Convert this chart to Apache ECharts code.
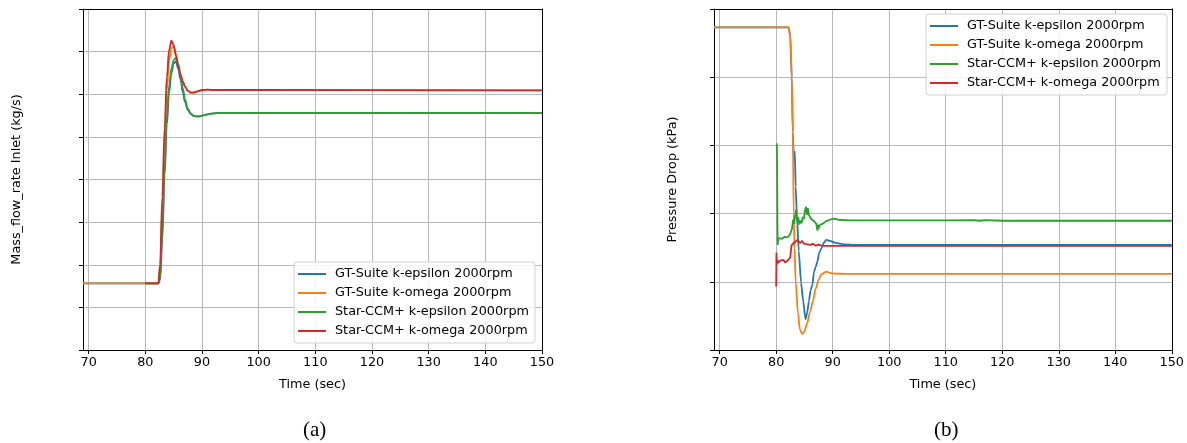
<!DOCTYPE html>
<html>
<head>
<meta charset="utf-8">
<script src="https://cdn.jsdelivr.net/npm/echarts@6/dist/echarts.min.js"></script>
<style>
  html, body { margin: 0; padding: 0; background: #fff; }
  #main { width: 1187px; height: 443px; }
</style>
</head>
<body>
<div id="main"></div>
<script>
var seriesNames = [
  "GT-Suite k-epsilon 2000rpm",
  "GT-Suite k-omega 2000rpm",
  "Star-CCM+ k-epsilon 2000rpm",
  "Star-CCM+ k-omega 2000rpm",
];
var colors = ["#1f77b4", "#ff7f0e", "#2ca02c", "#d62728"];
var timeTicks = [70, 80, 90, 100, 110, 120, 130, 140, 150];

// (a) mass flow rate inlet
var mfTimeGT = [69, 82.3, 82.6, 83.0, 83.4, 83.8, 84.2, 84.6, 85.0, 85.4, 85.8, 86.2, 86.6, 87.0, 87.5, 88.0, 88.5, 89.0, 89.5, 90, 91, 92, 93, 95, 100, 150];
var mfTimeStar = [80, 82.3, 82.6, 83.0, 83.4, 83.8, 84.2, 84.6, 85.0, 85.4, 85.8, 86.2, 86.6, 87.0, 87.5, 88.0, 88.5, 89.0, 89.5, 90, 91, 92, 93, 95, 100, 150];
var mfGTkeps = [1.565, 1.565, 1.65, 2.6, 4.1, 5.3, 6.05, 6.5, 6.72, 6.77, 6.6, 6.35, 6.05, 5.82, 5.63, 5.54, 5.49, 5.48, 5.48, 5.5, 5.53, 5.55, 5.56, 5.56, 5.56, 5.56];
var mfGTkom = [1.565, 1.565, 1.9, 3.3, 4.9, 6.1, 6.8, 7.08, 7.12, 6.95, 6.7, 6.47, 6.3, 6.18, 6.08, 6.04, 6.04, 6.06, 6.08, 6.1, 6.11, 6.1, 6.1, 6.1, 6.1, 6.09];
var mfStarKeps = [1.565, 1.565, 1.7, 2.8, 4.3, 5.5, 6.2, 6.6, 6.8, 6.85, 6.72, 6.45, 6.15, 5.88, 5.66, 5.55, 5.5, 5.48, 5.48, 5.5, 5.53, 5.55, 5.56, 5.56, 5.56, 5.56];
var mfStarKom = [1.565, 1.565, 2.0, 3.6, 5.2, 6.4, 7.05, 7.26, 7.15, 6.9, 6.65, 6.45, 6.3, 6.18, 6.08, 6.04, 6.04, 6.06, 6.08, 6.1, 6.11, 6.1, 6.1, 6.1, 6.1, 6.09];

// (b) pressure drop
var pdTimeGTkeps = [69, 82.2, 82.5, 82.75, 82.95, 83.1, 83.3, 83.45, 83.65, 84.0, 84.4, 84.8, 85.2, 85.5, 85.8, 86.1, 86.4, 86.7, 87.0, 87.3, 87.6, 88.0, 88.4, 88.85, 89.5, 90.5, 92, 94, 150];
var pdGTkeps = [4.73, 4.73, 4.6, 4.0, 3.2, 2.8, 2.91, 2.4, 2.0, 1.45, 0.99, 0.7, 0.45, 0.55, 0.72, 0.88, 0.95, 1.15, 1.22, 1.3, 1.42, 1.49, 1.57, 1.615, 1.6, 1.57, 1.55, 1.54, 1.54];
var pdTimeGTkom = [69, 82.2, 82.5, 82.75, 82.95, 83.1, 83.25, 83.45, 83.85, 84.2, 84.6, 85.0, 85.5, 86.0, 86.5, 87.0, 87.5, 88.0, 88.85, 89.5, 90.5, 92, 100, 150];
var pdGTkom = [4.73, 4.73, 4.6, 4.0, 3.2, 2.0, 1.5, 0.99, 0.54, 0.3, 0.235, 0.27, 0.4, 0.56, 0.72, 0.9, 1.03, 1.11, 1.15, 1.13, 1.12, 1.116, 1.116, 1.116];
var pdTimeStarKeps = [80.1, 80.15, 80.25, 80.4, 80.6, 81.0, 81.5, 82.0, 82.5, 82.8, 83.0, 83.2, 83.4, 83.55, 83.7, 83.9, 84.1, 84.3, 84.5, 84.7, 84.9, 85.1, 85.3, 85.45, 85.6, 85.8, 86.0, 86.2, 86.5, 86.8, 87.1, 87.3, 87.4, 87.5, 87.7, 88.0, 88.4, 88.85, 89.5, 90.3, 91, 93, 100, 110, 115, 116, 117, 120, 150];
var pdStarKeps = [3.03, 2.9, 1.54, 1.64, 1.65, 1.63, 1.66, 1.65, 1.7, 1.78, 1.91, 1.85, 2.0, 2.06, 1.9, 1.95, 1.84, 1.9, 1.86, 1.95, 1.92, 2.05, 2.1, 1.98, 2.08, 1.98, 1.96, 1.92, 1.93, 1.88, 1.85, 1.75, 1.84, 1.78, 1.83, 1.84, 1.86, 1.89, 1.91, 1.925, 1.91, 1.9, 1.9, 1.9, 1.905, 1.895, 1.905, 1.895, 1.895];
var pdTimeStarKom = [80.0, 80.05, 80.1, 80.2, 80.4, 80.7, 81.0, 81.3, 81.6, 82.0, 82.3, 82.5, 82.7, 82.9, 83.1, 83.4, 83.7, 84.0, 84.3, 84.6, 84.9, 85.2, 85.5, 85.8, 86.1, 86.5, 87.0, 87.5, 88.0, 88.5, 90, 100, 150];
var pdStarKom = [0.93, 1.43, 1.25, 1.32, 1.28, 1.31, 1.29, 1.32, 1.28, 1.31, 1.33, 1.36, 1.53, 1.55, 1.57, 1.58, 1.61, 1.59, 1.57, 1.6, 1.56, 1.58, 1.55, 1.57, 1.54, 1.56, 1.53, 1.545, 1.53, 1.527, 1.527, 1.527, 1.527];

function pairs(t, v) {
  return t.map(function (x, i) { return [x, v[i]]; });
}

var myChart = echarts.init(document.getElementById("main"), null, { renderer: "canvas" });

var fontFam = "DejaVu Sans";
var fs = 12.8;

function xAxisFor(idx) {
  return {
    gridIndex: idx,
    type: "value",
    min: 69,
    max: 150,
    name: "Time (sec)",
    nameLocation: "middle",
    nameGap: 28,
    nameTextStyle: { color: "#000", fontSize: fs, fontFamily: fontFam },
    axisLine: { show: true, lineStyle: { color: "#000", width: 1 } },
    axisTick: { show: true, length: 4, lineStyle: { color: "#000" }, customValues: timeTicks },
    axisLabel: { color: "#000", fontSize: fs, fontFamily: fontFam, margin: 6, customValues: timeTicks },
    splitLine: { show: true, lineStyle: { color: "#b8b8b8", width: 1 } },
  };
}

function yAxisFor(idx, name, max, gap) {
  return {
    gridIndex: idx,
    type: "value",
    min: 0,
    max: max,
    interval: 1,
    name: name,
    nameLocation: "middle",
    nameGap: gap,
    nameTextStyle: { color: "#000", fontSize: fs, fontFamily: fontFam },
    axisLine: { show: true, lineStyle: { color: "#000", width: 1 } },
    axisTick: { show: true, length: 4, lineStyle: { color: "#000" } },
    axisLabel: { show: false },
    splitLine: { show: true, lineStyle: { color: "#b8b8b8", width: 1 } },
  };
}

// plain frame lines on the top and right side
function frameAxis(idx, pos, max) {
  return {
    gridIndex: idx,
    type: "value",
    position: pos,
    min: pos === "top" ? 69 : 0,
    max: max,
    axisLine: { show: true, onZero: false, lineStyle: { color: "#000", width: 1 } },
    axisTick: { show: false },
    axisLabel: { show: false },
    splitLine: { show: false },
    z: 5,
  };
}

function line(name, color, idx, data, smooth) {
  return {
    name: name,
    type: "line",
    xAxisIndex: idx,
    yAxisIndex: idx,
    data: data,
    showSymbol: false,
    smooth: smooth,
    smoothMonotone: "x",
    lineStyle: { color: color, width: 1.8 },
    itemStyle: { color: color },
    emphasis: { disabled: true },
  };
}

function legendAt(pos) {
  return Object.assign({
    orient: "vertical",
    data: seriesNames,
    icon: "rect",
    itemWidth: 28,
    itemHeight: 2,
    itemGap: 5,
    padding: [5, 6, 5, 4],
    backgroundColor: "rgba(255,255,255,0.85)",
    borderColor: "#d0d0d0",
    borderWidth: 1,
    borderRadius: 3,
    textStyle: { color: "#000", fontSize: fs, fontFamily: fontFam, padding: [0, 0, 0, 4], lineHeight: 14 },
  }, pos);
}

option = {
  backgroundColor: "#fff",
  animation: false,
  grid: [
    { left: 83, top: 9, width: 459, height: 341 },
    { left: 714, top: 9, width: 459, height: 341 },
  ],
  xAxis: [xAxisFor(0), xAxisFor(1), frameAxis(0, "top", 150), frameAxis(1, "top", 150)],
  yAxis: [
    yAxisFor(0, "Mass_flow_rate Inlet (kg/s)", 8, 60),
    yAxisFor(1, "Pressure Drop (kPa)", 5, 35),
    frameAxis(0, "right", 8),
    frameAxis(1, "right", 5),
  ],
  legend: [
    legendAt({ left: 294, top: 262 }),
    legendAt({ left: 926, top: 14 }),
  ],
  series: [
    line(seriesNames[0], colors[0], 0, pairs(mfTimeGT, mfGTkeps), 0.4),
    line(seriesNames[1], colors[1], 0, pairs(mfTimeGT, mfGTkom), 0.4),
    line(seriesNames[2], colors[2], 0, pairs(mfTimeStar, mfStarKeps), 0.4),
    line(seriesNames[3], colors[3], 0, pairs(mfTimeStar, mfStarKom), 0.4),
    line(seriesNames[0], colors[0], 1, pairs(pdTimeGTkeps, pdGTkeps), 0.2),
    line(seriesNames[1], colors[1], 1, pairs(pdTimeGTkom, pdGTkom), 0.3),
    line(seriesNames[2], colors[2], 1, pairs(pdTimeStarKeps, pdStarKeps), false),
    line(seriesNames[3], colors[3], 1, pairs(pdTimeStarKom, pdStarKom), false),
  ],
  graphic: [
    { type: "text", left: 303, top: 420, style: { text: "(a)", fontSize: 21, fontFamily: "Liberation Serif", fill: "#000" } },
    { type: "text", left: 934, top: 420, style: { text: "(b)", fontSize: 21, fontFamily: "Liberation Serif", fill: "#000" } },
  ],
};

myChart.setOption(option);
</script>
</body>
</html>
